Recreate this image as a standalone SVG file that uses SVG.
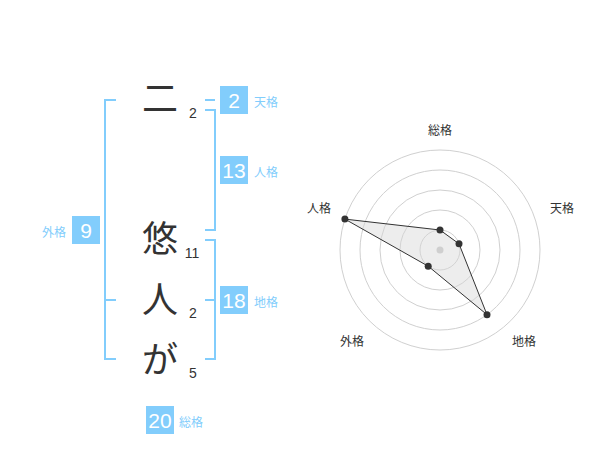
<svg xmlns="http://www.w3.org/2000/svg" width="600" height="470" viewBox="0 0 600 470">
<style>
.br{fill:none;stroke:#82cdfc;stroke-width:2}
.box{fill:#82cdfc}
.bt{fill:#fff;font-family:"Liberation Sans",Arial,sans-serif;font-size:21px;text-anchor:middle}
.lb{fill:#82cdfc;font-family:"Noto Sans CJK JP",sans-serif;font-size:12px}
.ch{fill:#333;font-family:"Noto Sans CJK JP",sans-serif;font-size:36px;text-anchor:middle}
.st{fill:#333;font-family:"Liberation Sans",Arial,sans-serif;font-size:14px;text-anchor:middle}
.ring{fill:none;stroke:#d0d0d0;stroke-width:1}
.rl{fill:#333;font-family:"Noto Sans CJK JP",sans-serif;font-size:12px;text-anchor:middle}
.dot{fill:#333}
</style>
<rect width="600" height="470" fill="#fff"/>
<g id="connectors">
<path class="br" d="M116 100H105V359H116M105 300H116"/>
<path class="br" d="M205 100H215"/>
<path class="br" d="M205 110H215V230H205"/>
<path class="br" d="M205 240H215V359H205M215 300H205"/>
</g>
<g id="char1"><text class="ch" x="160" y="112">二</text><text class="st" x="193" y="118">2</text></g>
<g id="char2"><text class="ch" x="160" y="252">悠</text><text class="st" x="192" y="258">11</text></g>
<g id="char3"><text class="ch" x="160" y="313">人</text><text class="st" x="193" y="318">2</text></g>
<g id="char4"><text class="ch" x="160" y="373">が</text><text class="st" x="193" y="378">5</text></g>
<g id="tenkaku"><rect class="box" x="220" y="86" width="28" height="28"/><text class="bt" x="234" y="107.5">2</text><text class="lb" x="254" y="107">天格</text></g>
<g id="jinkaku"><rect class="box" x="220" y="156" width="28" height="28"/><text class="bt" x="234" y="177.5">13</text><text class="lb" x="254" y="177">人格</text></g>
<g id="chikaku"><rect class="box" x="220" y="286" width="28" height="28"/><text class="bt" x="234" y="307.5">18</text><text class="lb" x="254" y="307">地格</text></g>
<g id="gaikaku"><rect class="box" x="72" y="216" width="28" height="28"/><text class="bt" x="86" y="237.5">9</text><text class="lb" x="66" y="237" text-anchor="end">外格</text></g>
<g id="soukaku"><rect class="box" x="146" y="406" width="28" height="28"/><text class="bt" x="160" y="427.5">20</text><text class="lb" x="179" y="427">総格</text></g>
<g id="radar">
<circle class="ring" cx="440" cy="250" r="20"/>
<circle class="ring" cx="440" cy="250" r="40"/>
<circle class="ring" cx="440" cy="250" r="60"/>
<circle class="ring" cx="440" cy="250" r="80"/>
<circle class="ring" cx="440" cy="250" r="100"/>
<circle cx="440" cy="250" r="3.5" fill="#c8c8c8"/>
<polygon points="440,230 459,243.8 487,314.7 428.2,266.2 344.9,219.1" fill="#d8d8d8" fill-opacity="0.45" stroke="#333" stroke-width="1"/>
<circle class="dot" cx="440" cy="230" r="3.5"/>
<circle class="dot" cx="459" cy="243.8" r="3.5"/>
<circle class="dot" cx="487" cy="314.7" r="3.5"/>
<circle class="dot" cx="428.2" cy="266.2" r="3.5"/>
<circle class="dot" cx="344.9" cy="219.1" r="3.5"/>
<text class="rl" x="440" y="135">総格</text>
<text class="rl" x="562" y="213">天格</text>
<text class="rl" x="319" y="213">人格</text>
<text class="rl" x="352" y="346">外格</text>
<text class="rl" x="524" y="346">地格</text>
</g>
</svg>
